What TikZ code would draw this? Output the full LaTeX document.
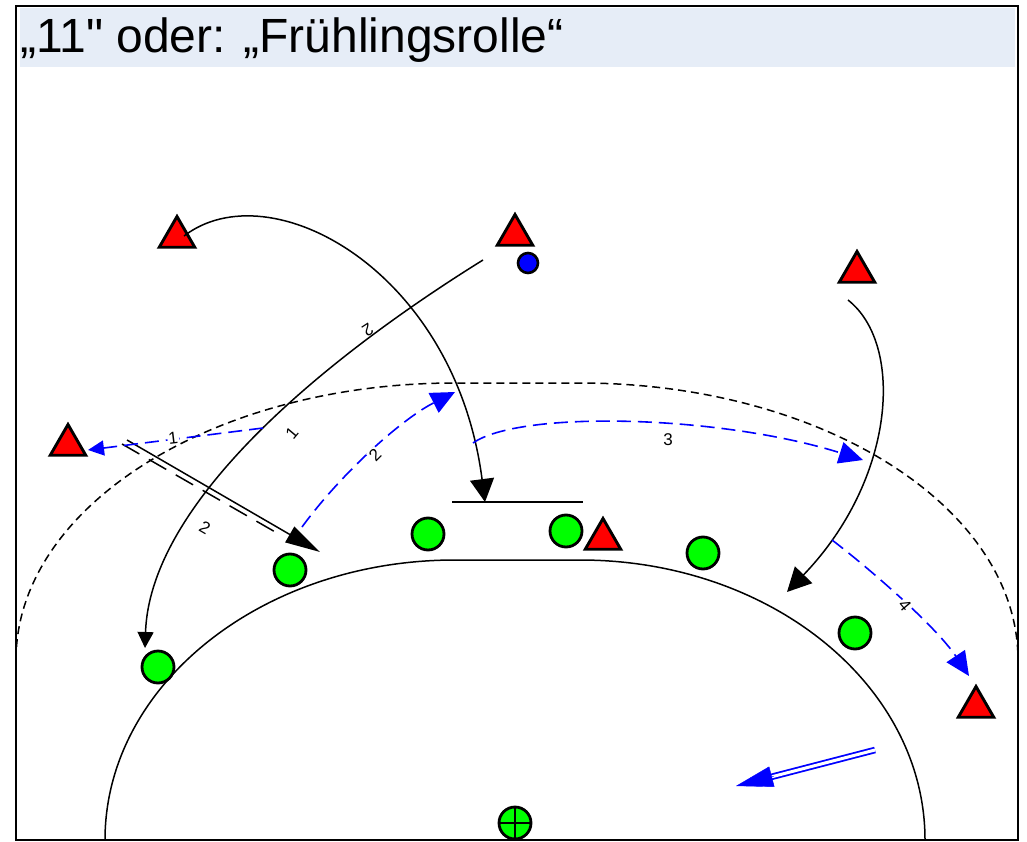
\documentclass[tikz,border=0pt]{standalone}
\usepackage{fontspec}
\newfontfamily\arialf{Liberation Sans}
\usetikzlibrary{arrows.meta,shapes.geometric,calc}
\definecolor{band}{RGB}{230,237,247}
\definecolor{pgreen}{RGB}{0,255,0}
\definecolor{pred}{RGB}{255,0,0}
\definecolor{pblue}{RGB}{0,0,255}
\begin{document}
\begin{tikzpicture}[x=1pt,y=-1pt,
  attacker/.style={regular polygon, regular polygon sides=3, draw=black, line width=2.9pt, fill=pred, minimum size=41pt, inner sep=0pt},
  defender/.style={circle, draw=black, line width=2.8pt, fill=pgreen, minimum size=32pt, inner sep=0pt},
  ballnode/.style={circle, draw=black, line width=2.6pt, fill=pblue, minimum size=20pt, inner sep=0pt},
  keeper/.style={circle, draw=black, line width=2.8pt, fill=pgreen, minimum size=32pt, inner sep=0pt,
    path picture={\draw[line width=2.4pt] (path picture bounding box.north) -- (path picture bounding box.south)
      (path picture bounding box.west) -- (path picture bounding box.east);}},
  court/.style={line width=1.5pt, black},
  ninem/.style={line width=1.5pt, black, dash pattern=on 8pt off 5pt},
  run/.style={line width=1.5pt, black},
  pass/.style={line width=1.6pt, pblue, dash pattern=on 14pt off 7pt},
  lab/.style={font=\arialf\fontsize{17}{17}\selectfont, inner sep=1pt},
  bigtip/.style={-{Triangle[length=23pt,width=24pt]}},
  bluetip/.style={-{Triangle[length=24pt,width=22pt]}}
]
\useasboundingbox (0,0) rectangle (1027,842);
\fill[white] (0,0) rectangle (1027,842);
% title band
\node[fill=band, anchor=north west, minimum width=995pt, minimum height=59pt, inner sep=0pt] (band) at (20,8) {};
\node[anchor=base west, inner sep=0pt, font=\arialf\fontsize{48}{48}\selectfont] (title) at (20,53) {„11" oder: „Frühlingsrolle“};
% court lines
\draw[court] (105,840) arc[start angle=180,end angle=270,x radius=350,y radius=280] -- (580,560)
  arc[start angle=270,end angle=360,x radius=345,y radius=280];
\draw[ninem] (16,660) arc[start angle=180,end angle=270,x radius=439,y radius=277] -- (580,383)
  arc[start angle=270,end angle=360,x radius=438,y radius=277];
% players
\node[attacker] (T1) at (177,237) {};
\node[attacker] (T2) at (515,235) {};
\node[attacker] (T3) at (857,272) {};
\node[attacker] (T4) at (68,445) {};
\node[attacker] (T5) at (603,539) {};
\node[attacker] (T6) at (976,707) {};
\node[defender] (D1) at (158,667) {};
\node[defender] (D2) at (290,570) {};
\node[defender] (D3) at (428,534) {};
\node[defender] (D4) at (566,531) {};
\node[defender] (D5) at (703,553) {};
\node[defender] (D6) at (855,633) {};
\node[ballnode] (ball) at (528,263) {};
\node[keeper] (K) at (515,823) {};
% coordinates
\coordinate (a0) at (184,236);
\coordinate (barA) at (485,502);
\coordinate (barL) at (452,502);
\coordinate (barR) at (583,502);
\coordinate (b0) at (483,260);
\coordinate (b1) at (145,648);
\coordinate (c0) at (848,300);
\coordinate (c1) at (787,592);
\coordinate (d0s) at (127,440);
\coordinate (d0d) at (122,444);
\coordinate (d1d) at (277,533);
\coordinate (dtip) at (320,552);
\coordinate (e1a) at (263,428);
\coordinate (e1b) at (88,450);
\coordinate (e2a) at (302,527);
\coordinate (e2b) at (455,392);
\coordinate (e3a) at (473,443);
\coordinate (e3b) at (863,460);
\coordinate (e4a) at (832,540);
\coordinate (e4b) at (969,676);
\coordinate (f0) at (875,750);
\coordinate (f1) at (769,777.5);
\coordinate (fm) at (773.8,776.2);
\coordinate (ftip) at (736,786);
% runs
\draw[run, bigtip] (a0) .. controls (270,170) and (455,270) .. (barA);
\draw[run] (barL) -- (barR);
\draw[run, -{Triangle[length=16pt,width=16pt]}] (b0) .. controls (330,355) and (150,500) .. (b1);
\draw[run, -{Triangle[length=24pt,width=24pt]}] (c0) .. controls (905,345) and (895,480) .. (c1);
\draw[run, -{Triangle[length=35pt,width=18pt]}] (d0s) -- (dtip);
\draw[line width=1.5pt, black, dash pattern=on 20pt off 11pt] (d0d) -- (d1d);
% passes
\draw[pass, -{Triangle[length=16pt,width=15pt]}] (e1a) -- (e1b);
\draw[pass, bluetip] (e2a) .. controls (340,475) and (400,420) .. (e2b);
\draw[pass, bluetip] (e3a) .. controls (520,410) and (720,415) .. (e3b);
\draw[pass, bluetip] (e4a) .. controls (865,565) and (935,625) .. (e4b);
% double arrow
\draw[pblue, line width=1.8pt, double=white, double distance=3pt] (f0) -- (f1);
\draw[pblue, line width=0.4pt, -{Triangle[length=37pt,width=21pt]}] (fm) -- (ftip);
% labels
\node[lab, rotate=213] (l2a) at (368,330) {2};
\node[lab, rotate=50] (l1a) at (292,433) {1};
\node[lab, fill=white, rotate=7] (l1b) at (173,438) {1};
\node[lab, rotate=-30] (l2b) at (205,528) {2};
\node[lab, fill=white, rotate=45] (l2c) at (375,455) {2};
\node[lab] (l3) at (668,440) {3};
\node[lab, fill=white, rotate=-50] (l4) at (905,605) {4};
% frame
\draw[line width=1.5pt] (16,6) rectangle (1018,840);
\end{tikzpicture}
\end{document}
